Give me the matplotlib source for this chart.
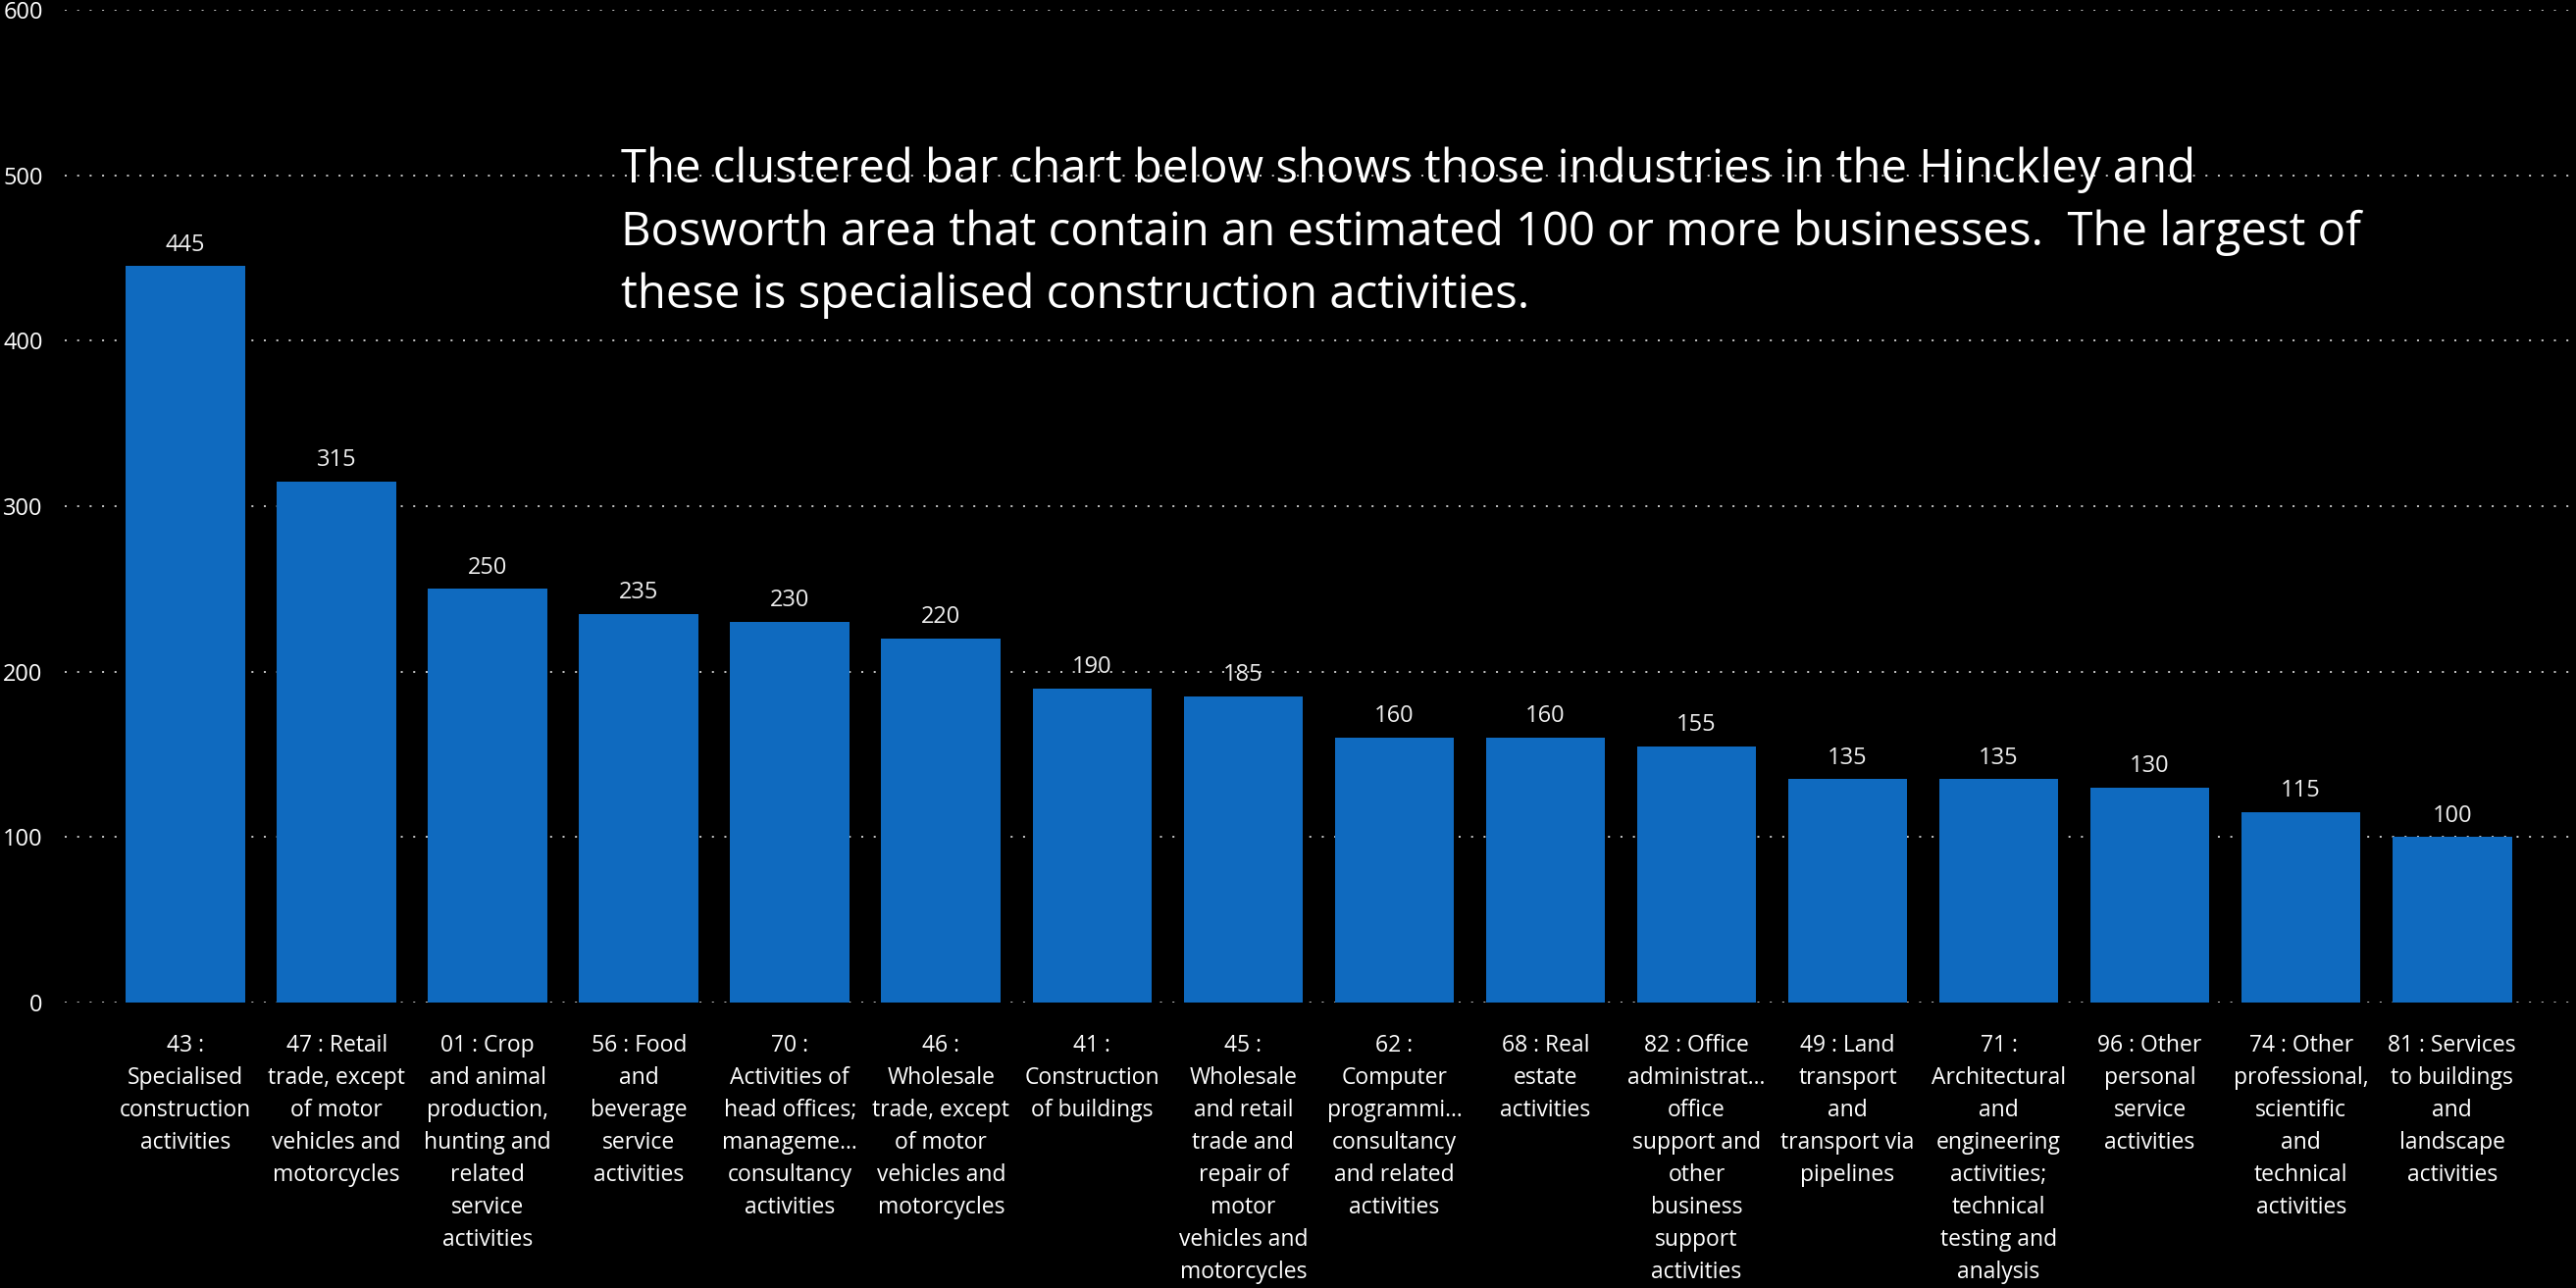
import matplotlib
matplotlib.use("Agg")
import matplotlib.pyplot as plt
import numpy as np

plt.rcParams['font.family'] = ['Open Sans', 'DejaVu Sans']

# industries (wrapped as in the original visual)
labels = [
    "43 :\nSpecialised\nconstruction\nactivities",
    "47 : Retail\ntrade, except\nof motor\nvehicles and\nmotorcycles",
    "01 : Crop\nand animal\nproduction,\nhunting and\nrelated\nservice\nactivities",
    "56 : Food\nand\nbeverage\nservice\nactivities",
    "70 :\nActivities of\nhead offices;\nmanageme\u2026\nconsultancy\nactivities",
    "46 :\nWholesale\ntrade, except\nof motor\nvehicles and\nmotorcycles",
    "41 :\nConstruction\nof buildings",
    "45 :\nWholesale\nand retail\ntrade and\nrepair of\nmotor\nvehicles and\nmotorcycles",
    "62 :\nComputer\nprogrammi\u2026\nconsultancy\nand related\nactivities",
    "68 : Real\nestate\nactivities",
    "82 : Office\nadministrat\u2026\noffice\nsupport and\nother\nbusiness\nsupport\nactivities",
    "49 : Land\ntransport\nand\ntransport via\npipelines",
    "71 :\nArchitectural\nand\nengineering\nactivities;\ntechnical\ntesting and\nanalysis",
    "96 : Other\npersonal\nservice\nactivities",
    "74 : Other\nprofessional,\nscientific\nand\ntechnical\nactivities",
    "81 : Services\nto buildings\nand\nlandscape\nactivities",
]
businesses = [445, 315, 250, 235, 230, 220, 190, 185, 160, 160, 155, 135, 135, 130, 115, 100]
yticks = [0, 100, 200, 300, 400, 500, 600]

note = ("The clustered bar chart below shows those industries in the Hinckley and\n"
        "Bosworth area that contain an estimated 100 or more businesses.  The largest of\n"
        "these is specialised construction activities.")

bar_color = '#0F6ABF'
txt_color = '#FFFFFF'

fig = plt.figure(figsize=(26.26, 13.13), dpi=100, facecolor='black')
ax = fig.add_axes([0.0251, 0.2216, 0.9749, 0.7708])
ax.set_facecolor('black')

x = np.arange(len(labels))
bars = ax.bar(x, businesses, width=0.79, color=bar_color, zorder=2)

for xi, v in zip(x, businesses):
    ax.annotate(str(v), (xi, v), textcoords="offset points", xytext=(0, 7),
                ha='center', va='bottom', fontsize=17, color='#EEEEEE')

ax.set_xlim(-0.80, 15.82)
ax.set_ylim(0, 600)
ax.set_yticks(yticks)
ax.set_xticks(x)
ax.set_xticklabels(labels, fontsize=16.5, color=txt_color, linespacing=1.5)
ax.tick_params(axis='x', length=0, pad=23)
ax.tick_params(axis='y', length=0, pad=16, labelsize=17, labelcolor=txt_color)

ax.yaxis.grid(True, color='#BFBFBF', linewidth=1.45, linestyle=(0, (1, 5.3)), zorder=0)
ax.set_axisbelow(True)
for s in ax.spines.values():
    s.set_visible(False)

# baseline of the last line of the note
fig.text(0.241, 0.7609, note, fontsize=34, color=txt_color, ha='left', va='baseline',
         linespacing=1.45)

fig.savefig('out.png', dpi=100, facecolor='black')
